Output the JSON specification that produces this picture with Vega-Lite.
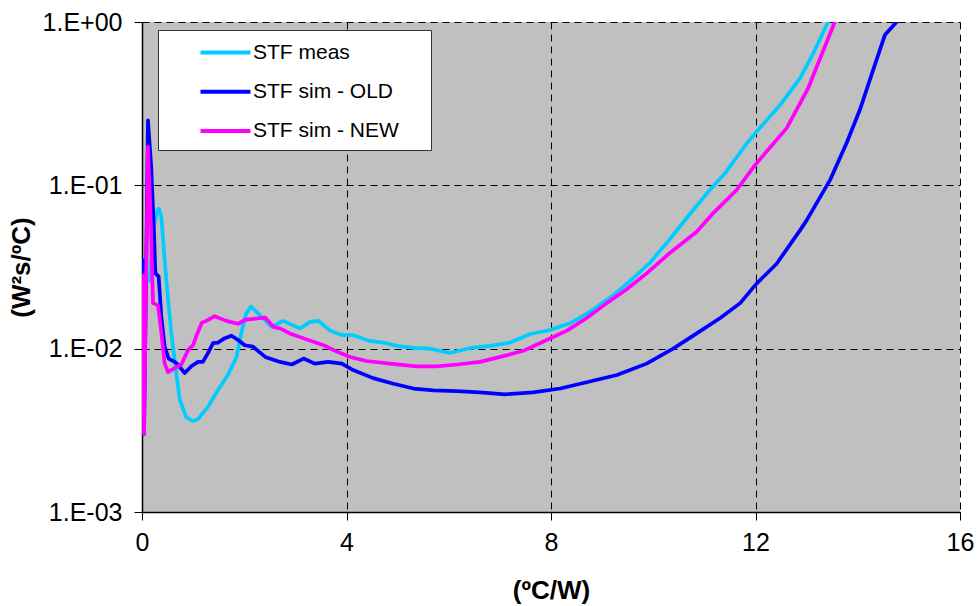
{
  "$schema": "https://vega.github.io/schema/vega-lite/v6.json",
  "width": 818,
  "height": 490,
  "autosize": {"type": "none"},
  "padding": {"left": 142, "top": 22, "right": 19, "bottom": 94},
  "background": "white",
  "config": {
    "view": {"fill": "#c0c0c0", "stroke": null},
    "font": "Liberation Sans",
    "axis": {
      "grid": true,
      "gridColor": "black",
      "gridDash": [7, 5],
      "gridWidth": 1,
      "gridOpacity": 1,
      "domainColor": "black",
      "domainWidth": 1.5,
      "tickColor": "black",
      "tickWidth": 1,
      "tickSize": 8,
      "labelFont": "Liberation Sans",
      "labelFontSize": 25,
      "labelColor": "black",
      "labelFlush": false,
      "titleFont": "Liberation Sans",
      "titleFontSize": 26,
      "titleFontWeight": "bold",
      "titleColor": "black"
    }
  },
  "data": {
    "values": [
      {"s": "STF meas", "x": 0.15, "y": 0.026},
      {"s": "STF meas", "x": 0.215, "y": 0.053},
      {"s": "STF meas", "x": 0.3, "y": 0.07},
      {"s": "STF meas", "x": 0.33, "y": 0.072},
      {"s": "STF meas", "x": 0.378, "y": 0.064},
      {"s": "STF meas", "x": 0.443, "y": 0.035},
      {"s": "STF meas", "x": 0.51, "y": 0.0199},
      {"s": "STF meas", "x": 0.574, "y": 0.0124},
      {"s": "STF meas", "x": 0.67, "y": 0.0071},
      {"s": "STF meas", "x": 0.737, "y": 0.0049},
      {"s": "STF meas", "x": 0.867, "y": 0.0038},
      {"s": "STF meas", "x": 0.997, "y": 0.0036},
      {"s": "STF meas", "x": 1.095, "y": 0.0037},
      {"s": "STF meas", "x": 1.29, "y": 0.0044},
      {"s": "STF meas", "x": 1.49, "y": 0.0056},
      {"s": "STF meas", "x": 1.68, "y": 0.0069},
      {"s": "STF meas", "x": 1.85, "y": 0.0089},
      {"s": "STF meas", "x": 1.94, "y": 0.0124},
      {"s": "STF meas", "x": 2.04, "y": 0.0165},
      {"s": "STF meas", "x": 2.13, "y": 0.0181},
      {"s": "STF meas", "x": 2.24, "y": 0.0168},
      {"s": "STF meas", "x": 2.54, "y": 0.0136},
      {"s": "STF meas", "x": 2.76, "y": 0.0148},
      {"s": "STF meas", "x": 3.09, "y": 0.0133},
      {"s": "STF meas", "x": 3.29, "y": 0.0146},
      {"s": "STF meas", "x": 3.45, "y": 0.0148},
      {"s": "STF meas", "x": 3.68, "y": 0.0129},
      {"s": "STF meas", "x": 3.91, "y": 0.0121},
      {"s": "STF meas", "x": 4.13, "y": 0.0121},
      {"s": "STF meas", "x": 4.43, "y": 0.0112},
      {"s": "STF meas", "x": 4.72, "y": 0.0109},
      {"s": "STF meas", "x": 4.98, "y": 0.0104},
      {"s": "STF meas", "x": 5.31, "y": 0.0101},
      {"s": "STF meas", "x": 5.63, "y": 0.01},
      {"s": "STF meas", "x": 6.02, "y": 0.0094},
      {"s": "STF meas", "x": 6.42, "y": 0.0101},
      {"s": "STF meas", "x": 6.81, "y": 0.0104},
      {"s": "STF meas", "x": 7.2, "y": 0.0109},
      {"s": "STF meas", "x": 7.6, "y": 0.0123},
      {"s": "STF meas", "x": 7.98, "y": 0.013},
      {"s": "STF meas", "x": 8.37, "y": 0.0143},
      {"s": "STF meas", "x": 8.76, "y": 0.0168},
      {"s": "STF meas", "x": 9.2, "y": 0.021},
      {"s": "STF meas", "x": 9.61, "y": 0.027},
      {"s": "STF meas", "x": 9.94, "y": 0.0337},
      {"s": "STF meas", "x": 10.33, "y": 0.047},
      {"s": "STF meas", "x": 10.72, "y": 0.067},
      {"s": "STF meas", "x": 11.11, "y": 0.094},
      {"s": "STF meas", "x": 11.4, "y": 0.118},
      {"s": "STF meas", "x": 11.83, "y": 0.181},
      {"s": "STF meas", "x": 12.02, "y": 0.213},
      {"s": "STF meas", "x": 12.48, "y": 0.31},
      {"s": "STF meas", "x": 12.87, "y": 0.452},
      {"s": "STF meas", "x": 13.13, "y": 0.643},
      {"s": "STF meas", "x": 13.42, "y": 1.0},
      {"s": "STF meas", "x": 13.45, "y": 1.05},
      {"s": "STF sim - OLD", "x": 0.01, "y": 0.035},
      {"s": "STF sim - OLD", "x": 0.04, "y": 0.003},
      {"s": "STF sim - OLD", "x": 0.117, "y": 0.25},
      {"s": "STF sim - OLD", "x": 0.18, "y": 0.13},
      {"s": "STF sim - OLD", "x": 0.235, "y": 0.051},
      {"s": "STF sim - OLD", "x": 0.26, "y": 0.029},
      {"s": "STF sim - OLD", "x": 0.326, "y": 0.0276},
      {"s": "STF sim - OLD", "x": 0.378, "y": 0.0157},
      {"s": "STF sim - OLD", "x": 0.443, "y": 0.0103},
      {"s": "STF sim - OLD", "x": 0.52, "y": 0.0087},
      {"s": "STF sim - OLD", "x": 0.64, "y": 0.0083},
      {"s": "STF sim - OLD", "x": 0.7, "y": 0.008},
      {"s": "STF sim - OLD", "x": 0.835, "y": 0.0071},
      {"s": "STF sim - OLD", "x": 0.965, "y": 0.0078},
      {"s": "STF sim - OLD", "x": 1.095, "y": 0.0083},
      {"s": "STF sim - OLD", "x": 1.19, "y": 0.0083},
      {"s": "STF sim - OLD", "x": 1.29, "y": 0.0094},
      {"s": "STF sim - OLD", "x": 1.39, "y": 0.0108},
      {"s": "STF sim - OLD", "x": 1.49, "y": 0.0109},
      {"s": "STF sim - OLD", "x": 1.62, "y": 0.0116},
      {"s": "STF sim - OLD", "x": 1.75, "y": 0.012},
      {"s": "STF sim - OLD", "x": 1.88, "y": 0.0113},
      {"s": "STF sim - OLD", "x": 2.01, "y": 0.0105},
      {"s": "STF sim - OLD", "x": 2.17, "y": 0.0103},
      {"s": "STF sim - OLD", "x": 2.41, "y": 0.0089},
      {"s": "STF sim - OLD", "x": 2.7, "y": 0.0083},
      {"s": "STF sim - OLD", "x": 2.93, "y": 0.008},
      {"s": "STF sim - OLD", "x": 3.16, "y": 0.0087},
      {"s": "STF sim - OLD", "x": 3.38, "y": 0.0081},
      {"s": "STF sim - OLD", "x": 3.64, "y": 0.0083},
      {"s": "STF sim - OLD", "x": 3.91, "y": 0.0081},
      {"s": "STF sim - OLD", "x": 4.13, "y": 0.0074},
      {"s": "STF sim - OLD", "x": 4.52, "y": 0.0066},
      {"s": "STF sim - OLD", "x": 4.92, "y": 0.0061},
      {"s": "STF sim - OLD", "x": 5.31, "y": 0.0057},
      {"s": "STF sim - OLD", "x": 5.7, "y": 0.00555},
      {"s": "STF sim - OLD", "x": 6.16, "y": 0.0055},
      {"s": "STF sim - OLD", "x": 6.61, "y": 0.0054},
      {"s": "STF sim - OLD", "x": 7.1, "y": 0.00525},
      {"s": "STF sim - OLD", "x": 7.65, "y": 0.0054},
      {"s": "STF sim - OLD", "x": 8.18, "y": 0.0057},
      {"s": "STF sim - OLD", "x": 8.76, "y": 0.0063},
      {"s": "STF sim - OLD", "x": 9.29, "y": 0.0069},
      {"s": "STF sim - OLD", "x": 9.87, "y": 0.0081},
      {"s": "STF sim - OLD", "x": 10.39, "y": 0.01},
      {"s": "STF sim - OLD", "x": 10.85, "y": 0.0124},
      {"s": "STF sim - OLD", "x": 11.31, "y": 0.0154},
      {"s": "STF sim - OLD", "x": 11.7, "y": 0.019},
      {"s": "STF sim - OLD", "x": 12.02, "y": 0.025},
      {"s": "STF sim - OLD", "x": 12.41, "y": 0.033},
      {"s": "STF sim - OLD", "x": 12.87, "y": 0.053},
      {"s": "STF sim - OLD", "x": 13.0, "y": 0.061},
      {"s": "STF sim - OLD", "x": 13.46, "y": 0.108},
      {"s": "STF sim - OLD", "x": 13.78, "y": 0.181},
      {"s": "STF sim - OLD", "x": 14.04, "y": 0.289},
      {"s": "STF sim - OLD", "x": 14.3, "y": 0.508},
      {"s": "STF sim - OLD", "x": 14.53, "y": 0.832},
      {"s": "STF sim - OLD", "x": 14.76, "y": 1.0},
      {"s": "STF sim - OLD", "x": 14.8, "y": 1.05},
      {"s": "STF sim - NEW", "x": 0.01, "y": 0.028},
      {"s": "STF sim - NEW", "x": 0.04, "y": 0.003},
      {"s": "STF sim - NEW", "x": 0.117, "y": 0.172},
      {"s": "STF sim - NEW", "x": 0.17, "y": 0.064},
      {"s": "STF sim - NEW", "x": 0.215, "y": 0.019},
      {"s": "STF sim - NEW", "x": 0.313, "y": 0.0184},
      {"s": "STF sim - NEW", "x": 0.365, "y": 0.0136},
      {"s": "STF sim - NEW", "x": 0.443, "y": 0.0081},
      {"s": "STF sim - NEW", "x": 0.509, "y": 0.0072},
      {"s": "STF sim - NEW", "x": 0.64, "y": 0.0076},
      {"s": "STF sim - NEW", "x": 0.77, "y": 0.008},
      {"s": "STF sim - NEW", "x": 0.9, "y": 0.0098},
      {"s": "STF sim - NEW", "x": 1.0, "y": 0.0105},
      {"s": "STF sim - NEW", "x": 1.06, "y": 0.0119},
      {"s": "STF sim - NEW", "x": 1.17, "y": 0.0144},
      {"s": "STF sim - NEW", "x": 1.26, "y": 0.0148},
      {"s": "STF sim - NEW", "x": 1.42, "y": 0.0158},
      {"s": "STF sim - NEW", "x": 1.65, "y": 0.0148},
      {"s": "STF sim - NEW", "x": 1.88, "y": 0.0142},
      {"s": "STF sim - NEW", "x": 2.01, "y": 0.015},
      {"s": "STF sim - NEW", "x": 2.24, "y": 0.0153},
      {"s": "STF sim - NEW", "x": 2.41, "y": 0.0155},
      {"s": "STF sim - NEW", "x": 2.57, "y": 0.0136},
      {"s": "STF sim - NEW", "x": 2.7, "y": 0.0133},
      {"s": "STF sim - NEW", "x": 2.89, "y": 0.0124},
      {"s": "STF sim - NEW", "x": 3.22, "y": 0.0114},
      {"s": "STF sim - NEW", "x": 3.55, "y": 0.0105},
      {"s": "STF sim - NEW", "x": 3.81, "y": 0.0096},
      {"s": "STF sim - NEW", "x": 4.07, "y": 0.0089},
      {"s": "STF sim - NEW", "x": 4.39, "y": 0.0084},
      {"s": "STF sim - NEW", "x": 4.85, "y": 0.0081},
      {"s": "STF sim - NEW", "x": 5.37, "y": 0.0078},
      {"s": "STF sim - NEW", "x": 5.76, "y": 0.0078},
      {"s": "STF sim - NEW", "x": 6.16, "y": 0.008},
      {"s": "STF sim - NEW", "x": 6.61, "y": 0.0083},
      {"s": "STF sim - NEW", "x": 7.07, "y": 0.009},
      {"s": "STF sim - NEW", "x": 7.46, "y": 0.0097},
      {"s": "STF sim - NEW", "x": 7.78, "y": 0.0108},
      {"s": "STF sim - NEW", "x": 8.31, "y": 0.0129},
      {"s": "STF sim - NEW", "x": 8.7, "y": 0.0154},
      {"s": "STF sim - NEW", "x": 9.09, "y": 0.019},
      {"s": "STF sim - NEW", "x": 9.48, "y": 0.0231},
      {"s": "STF sim - NEW", "x": 9.87, "y": 0.0289},
      {"s": "STF sim - NEW", "x": 10.33, "y": 0.0387},
      {"s": "STF sim - NEW", "x": 10.85, "y": 0.052},
      {"s": "STF sim - NEW", "x": 11.17, "y": 0.0674},
      {"s": "STF sim - NEW", "x": 11.63, "y": 0.0936},
      {"s": "STF sim - NEW", "x": 11.99, "y": 0.133},
      {"s": "STF sim - NEW", "x": 12.61, "y": 0.224},
      {"s": "STF sim - NEW", "x": 13.03, "y": 0.393},
      {"s": "STF sim - NEW", "x": 13.29, "y": 0.628},
      {"s": "STF sim - NEW", "x": 13.55, "y": 1.0},
      {"s": "STF sim - NEW", "x": 13.58, "y": 1.05}
    ]
  },
  "mark": {"type": "line", "strokeWidth": 3.7, "clip": true, "strokeJoin": "round", "strokeCap": "round"},
  "encoding": {
    "x": {
      "field": "x",
      "type": "quantitative",
      "scale": {"domain": [0, 16], "nice": false, "zero": false},
      "axis": {
        "values": [0, 4, 8, 12, 16],
        "title": "(ºC/W)",
        "labelPadding": 10,
        "titleX": 409,
        "titleY": 78,
        "titleBaseline": "middle"
      }
    },
    "y": {
      "field": "y",
      "type": "quantitative",
      "scale": {"type": "log", "domain": [0.001, 1], "nice": false},
      "axis": {
        "values": [0.001, 0.01, 0.1, 1],
        "title": "(W²s/ºC)",
        "labelPadding": 12,
        "labelExpr": "datum.value >= 0.5 ? '1.E+00' : datum.value >= 0.05 ? '1.E-01' : datum.value >= 0.005 ? '1.E-02' : '1.E-03'",
        "titleX": -121,
        "titleY": 245,
        "titleBaseline": "middle",
        "titleAlign": "center"
      }
    },
    "color": {
      "field": "s",
      "type": "nominal",
      "sort": null,
      "scale": {
        "domain": ["STF meas", "STF sim - OLD", "STF sim - NEW"],
        "range": ["#00ccff", "#0000ff", "#ff00ff"]
      },
      "legend": {
        "orient": "none",
        "legendX": 16,
        "legendY": 8,
        "title": " ",
        "titleOrient": "right",
        "titlePadding": 24,
        "titleFontSize": 10,
        "fillColor": "white",
        "strokeColor": "#333333",
        "padding": 8,
        "symbolType": "M-2,0H2",
        "symbolSize": 625,
        "symbolStrokeWidth": 4,
        "symbolOffset": 45,
        "labelOffset": 13,
        "labelFont": "Liberation Sans",
        "labelFontSize": 21,
        "labelColor": "black",
        "labelLimit": 400,
        "rowPadding": 14.3
      }
    }
  }
}
